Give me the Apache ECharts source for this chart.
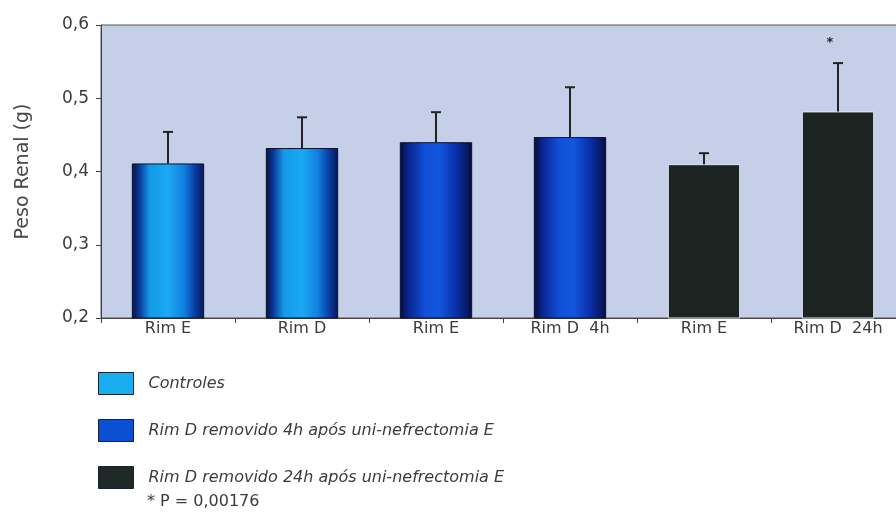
<!DOCTYPE html>
<html>
<head>
<meta charset="utf-8">
<script src="https://cdn.jsdelivr.net/npm/echarts@6/dist/echarts.min.js"></script>
<style>
  html, body { margin: 0; padding: 0; background: #ffffff; }
  #chart { width: 896px; height: 512px; }
</style>
</head>
<body>
<div id="chart"></div>
<script>
// Kidney weight (g) per group, mean with upward SD bar
const categories = ['Rim E', 'Rim D', 'Rim E', 'Rim D  4h', 'Rim E', 'Rim D  24h'];
const means = [0.411, 0.432, 0.440, 0.447, 0.410, 0.482];
const sds = [0.043, 0.042, 0.041, 0.068, 0.015, 0.066];
const groupOf = [0, 0, 1, 1, 2, 2];
const groupNames = [
  'Controles',
  'Rim D removido 4h após uni-nefrectomia E',
  'Rim D removido 24h após uni-nefrectomia E'
];
const significance = ['', '', '', '', '', '*'];
const yTicks = { min: 0.2, max: 0.6, step: 0.1 };
const pValueNote = '* P = 0,00176';

const FONT = '"DejaVu Sans", "Liberation Sans", Arial, sans-serif';
const TEXT = '#3c3c3c';

const barFills = [
  { type: 'linear', x: 0, y: 0, x2: 1, y2: 0, colorStops: [
    { offset: 0, color: '#04123e' }, { offset: 0.1, color: '#0a3596' },
    { offset: 0.25, color: '#149ae8' }, { offset: 0.5, color: '#1aa9f3' },
    { offset: 0.72, color: '#1180e0' }, { offset: 0.88, color: '#0a3aa0' },
    { offset: 1, color: '#051850' } ] },
  { type: 'linear', x: 0, y: 0, x2: 1, y2: 0, colorStops: [
    { offset: 0, color: '#060c3a' }, { offset: 0.12, color: '#0a2590' },
    { offset: 0.35, color: '#1150d8' }, { offset: 0.55, color: '#1256dc' },
    { offset: 0.78, color: '#0a2fa8' }, { offset: 0.92, color: '#081a6a' },
    { offset: 1, color: '#050d3a' } ] },
  '#1c2421'
];
const legendSwatches = ['#19aef0', '#0b4fd2', '#1f2926'];

const barSeries = groupNames.map((name, g) => ({
  name: name,
  type: 'bar',
  barWidth: '54%',
  barGap: '-100%',
  itemStyle: { color: barFills[g], borderColor: g === 2 ? '#dfe6f4' : '#0a1030', borderWidth: 1 },
  data: means.map((v, i) => (groupOf[i] === g ? v : '-')),
  z: 2
}));

const errorSeries = {
  type: 'custom',
  silent: true,
  z: 3,
  data: means.map((m, i) => [i, m, sds[i]]),
  renderItem: function (params, api) {
    const i = api.value(0);
    const base = api.coord([i, api.value(1)]);
    const top = api.coord([i, api.value(1) + api.value(2)]);
    const children = [
      { type: 'line', shape: { x1: base[0], y1: base[1], x2: top[0], y2: top[1] },
        style: { stroke: '#222', lineWidth: 2 } },
      { type: 'line', shape: { x1: top[0] - 5, y1: top[1], x2: top[0] + 5, y2: top[1] },
        style: { stroke: '#222', lineWidth: 2 } }
    ];
    if (significance[i]) {
      children.push({ type: 'text', x: top[0] - 8, y: top[1] - 20,
        style: { text: significance[i], fill: '#222', font: 'bold 13px ' + FONT, align: 'center', verticalAlign: 'middle' } });
    }
    return { type: 'group', children: children };
  }
};

const chart = echarts.init(document.getElementById('chart'));
chart.setOption({
  animation: false,
  backgroundColor: '#ffffff',
  textStyle: { fontFamily: FONT },
  grid: {
    left: 101, top: 25, width: 804, height: 293,
    outerBoundsMode: 'none',
    containLabel: false,
    show: true, backgroundColor: '#c6cfe8', borderColor: '#555', borderWidth: 1
  },
  xAxis: {
    type: 'category',
    data: categories,
    axisLine: { lineStyle: { color: '#444', width: 1 } },
    axisTick: { show: true, length: 5, lineStyle: { color: '#444' } },
    axisLabel: { color: TEXT, fontSize: 16, margin: 3, fontFamily: FONT }
  },
  yAxis: {
    type: 'value',
    min: yTicks.min, max: yTicks.max, interval: yTicks.step,
    name: 'Peso Renal (g)',
    nameLocation: 'middle',
    nameGap: 68,
    nameTextStyle: { color: '#484848', fontSize: 19, fontFamily: FONT },
    splitLine: { show: false },
    axisLine: { show: true, lineStyle: { color: '#444', width: 1 } },
    axisTick: { show: true, length: 5, lineStyle: { color: '#444' } },
    axisLabel: { color: TEXT, fontSize: 17, margin: 12, fontFamily: FONT,
      formatter: v => v.toFixed(1).replace('.', ',') }
  },
  legend: {
    orient: 'vertical',
    left: 93, top: 367,
    itemWidth: 35, itemHeight: 22, itemGap: 24,
    icon: 'rect',
    selectedMode: false,
    itemStyle: { borderColor: '#1a2030', borderWidth: 1 },
    textStyle: { color: TEXT, fontSize: 16, fontStyle: 'italic', fontFamily: FONT, padding: [0, 0, 0, 10] },
    data: groupNames.map((n, g) => ({ name: n, itemStyle: { color: legendSwatches[g] } }))
  },
  graphic: [{
    type: 'text', left: 147, top: 494,
    style: { text: pValueNote, fill: TEXT, font: '16px ' + FONT }
  }],
  series: barSeries.concat([errorSeries])
});
</script>
</body>
</html>
